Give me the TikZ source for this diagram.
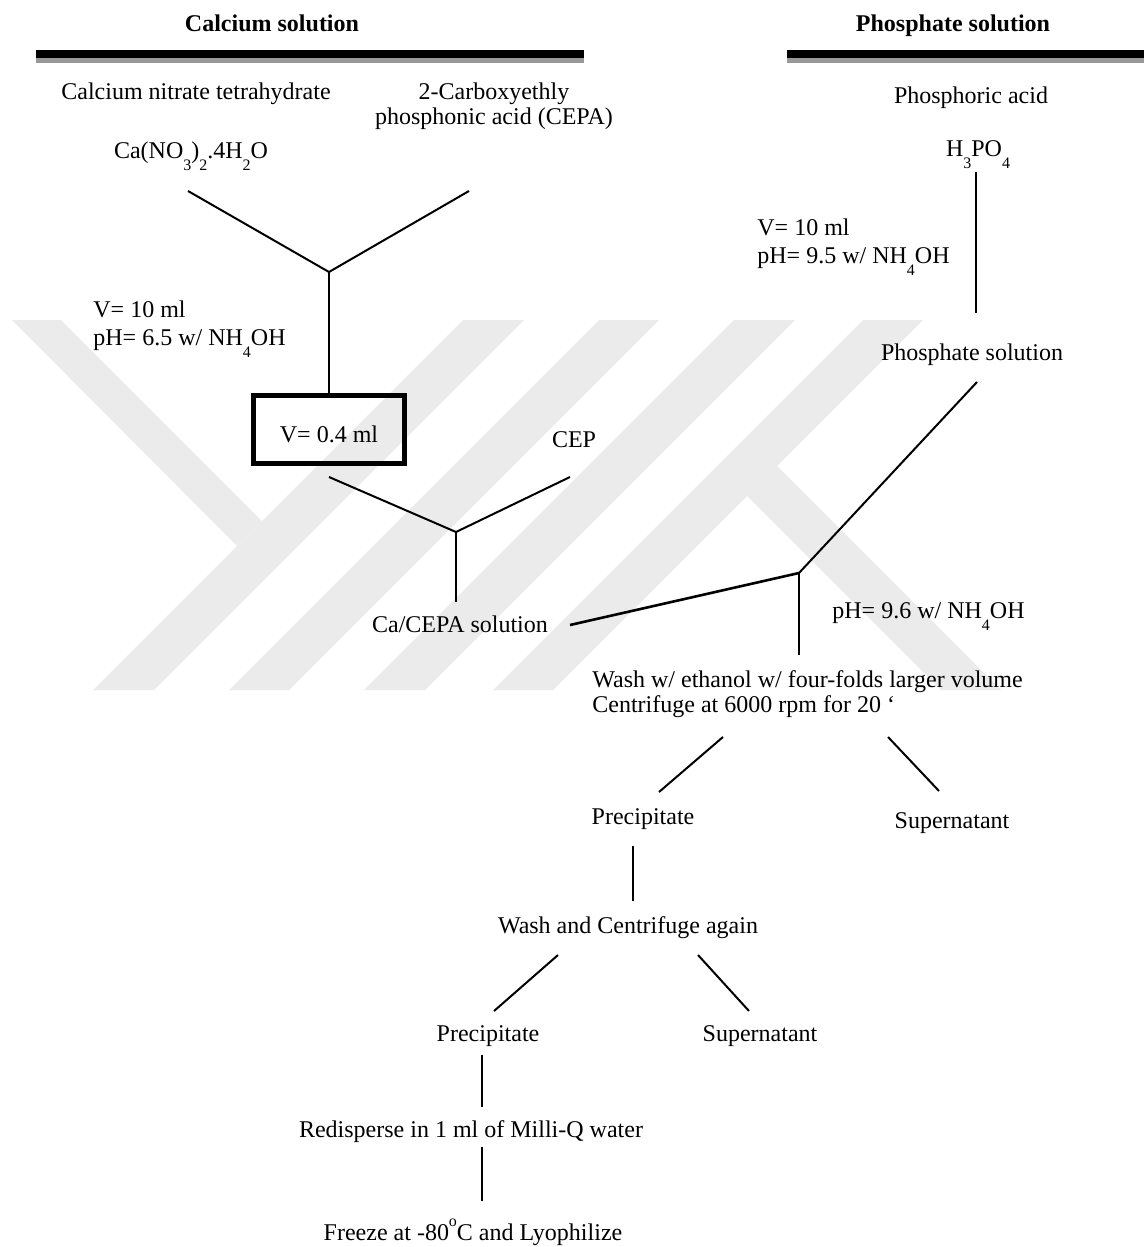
\documentclass[tikz,border=0pt]{standalone}
\usepackage{fontspec}
\setmainfont{Liberation Serif}
\newcommand\sbb[1]{\raisebox{-6pt}{\fontsize{8}{8}\selectfont #1}}
\newcommand\supo{\raisebox{7pt}{\fontsize{8}{8}\selectfont o}}
\begin{document}
\begin{tikzpicture}[x=0.5pt,y=-0.5pt,
  txt/.style={anchor=base,inner sep=0pt,font=\fontsize{12}{14}\selectfont},
  txtl/.style={txt,anchor=base west},
  head/.style={txt,font=\fontsize{12}{14}\selectfont\bfseries},
  conn/.style={line width=1pt},
  wm/.style={fill=black!8},
  bar/.style={fill=black},
  barshadow/.style={fill=black!40},
  volbox/.style={draw,line width=2.5pt,minimum width=75.5pt,minimum height=34pt,inner sep=0pt}
  ]
\useasboundingbox (0,0) rectangle (1144,1247);
% watermark
\fill[wm] (93,690) -- (154,690) -- (524,320) -- (463,320) -- cycle;
\fill[wm] (229,690) -- (289,690) -- (659,320) -- (599,320) -- cycle;
\fill[wm] (364,690) -- (425,690) -- (795,320) -- (734,320) -- cycle;
\fill[wm] (493,690) -- (553,690) -- (923,320) -- (863,320) -- cycle;
\fill[wm] (12,320) -- (61,320) -- (262,521) -- (237,546) -- cycle;
\fill[wm] (717,466) -- (777,466) -- (1001,690) -- (941,690) -- cycle;
% header bars
\fill[barshadow] (36,58) rectangle (584,63);
\fill[bar] (36,50) rectangle (584,58);
\fill[barshadow] (787,58) rectangle (1144,63);
\fill[bar] (787,50) rectangle (1144,58);
\node[head] (hca) at (272,32) {Calcium solution};
\node[head] (hph) at (953,32) {Phosphate solution};
% calcium side
\node[txt] (cnt) at (196,100) {Calcium nitrate tetrahydrate};
\node[txt] (cepa1) at (494,100) {2-Carboxyethly};
\node[txt] (cepa2) at (494,125) {phosphonic acid (CEPA)};
\node[txt] (cafor) at (191,158) {Ca(NO\sbb{3})\sbb{2}.4H\sbb{2}O};
\coordinate (l1) at (188,191);
\coordinate (r1) at (469,191);
\coordinate (j1) at (329,272);
\draw[conn] (l1) -- (j1) -- (r1);
\node[txtl] (v10a) at (93,317) {V= 10 ml};
\node[txtl] (pha) at (93,345) {pH= 6.5 w/ NH\sbb{4}OH};
\node[volbox] (box) at (329,429.5) {};
\node[txt] (vol) at (329,442) {V= 0.4 ml};
\draw[conn] (j1) -- (box.north);
\node[txt] (cep) at (574,447) {CEP};
\coordinate (l2) at (329,477);
\coordinate (r2) at (570,477);
\coordinate (j2) at (456,532);
\draw[conn] (l2) -- (j2) -- (r2);
\node[txt] (cacepa) at (460,632) {Ca/CEPA solution};
\draw[conn] (j2) -- (456,602) coordinate (j2b);
% phosphate side
\node[txt] (pacid) at (971,104) {Phosphoric acid};
\node[txt] (hpo) at (978,156) {H\sbb{3}PO\sbb{4}};
\coordinate (p1) at (976,172);
\coordinate (p2) at (976,313);
\draw[conn] (p1) -- (p2);
\node[txtl] (v10b) at (757,235) {V= 10 ml};
\node[txtl] (phb) at (757,263) {pH= 9.5 w/ NH\sbb{4}OH};
\node[txt] (psol) at (972,360) {Phosphate solution};
\coordinate (p3) at (977,382);
\coordinate (j3) at (799,573);
\coordinate (c1) at (570,625);
\draw[conn] (p3) -- (j3);
\draw[line width=1.3pt] (c1) -- (j3);
\coordinate (j3b) at (799,655);
\draw[conn] (j3) -- (j3b);
\node[txtl] (phc) at (832,618) {pH= 9.6 w/ NH\sbb{4}OH};
\node[txtl] (wash1) at (592,687) {Wash w/ ethanol w/ four-folds larger volume};
\node[txtl] (wash2) at (592,712) {Centrifuge at 6000 rpm for 20 ‘};
\coordinate (w1) at (723,737);
\coordinate (w2) at (659,792);
\coordinate (w3) at (888,737);
\coordinate (w4) at (939,791);
\draw[conn] (w1) -- (w2);
\draw[conn] (w3) -- (w4);
\node[txt] (prec1) at (643,824) {Precipitate};
\node[txt] (sup1) at (952,828) {Supernatant};
\coordinate (v1) at (633,846);
\coordinate (v2) at (633,901);
\draw[conn] (v1) -- (v2);
\node[txt] (wash3) at (628,933) {Wash and Centrifuge again};
\coordinate (x1) at (558,955);
\coordinate (x2) at (494,1011);
\coordinate (x3) at (698,955);
\coordinate (x4) at (749,1011);
\draw[conn] (x1) -- (x2);
\draw[conn] (x3) -- (x4);
\node[txt] (prec2) at (488,1041) {Precipitate};
\node[txt] (sup2) at (760,1041) {Supernatant};
\coordinate (y1) at (482,1055);
\coordinate (y2) at (482,1107);
\draw[conn] (y1) -- (y2);
\node[txt] (redisp) at (471,1137) {Redisperse in 1 ml of Milli-Q water};
\coordinate (z1) at (482,1147);
\coordinate (z2) at (482,1201);
\draw[conn] (z1) -- (z2);
\node[txt] (freeze) at (473,1240) {Freeze at -80\supo C and Lyophilize};
\end{tikzpicture}
\end{document}
